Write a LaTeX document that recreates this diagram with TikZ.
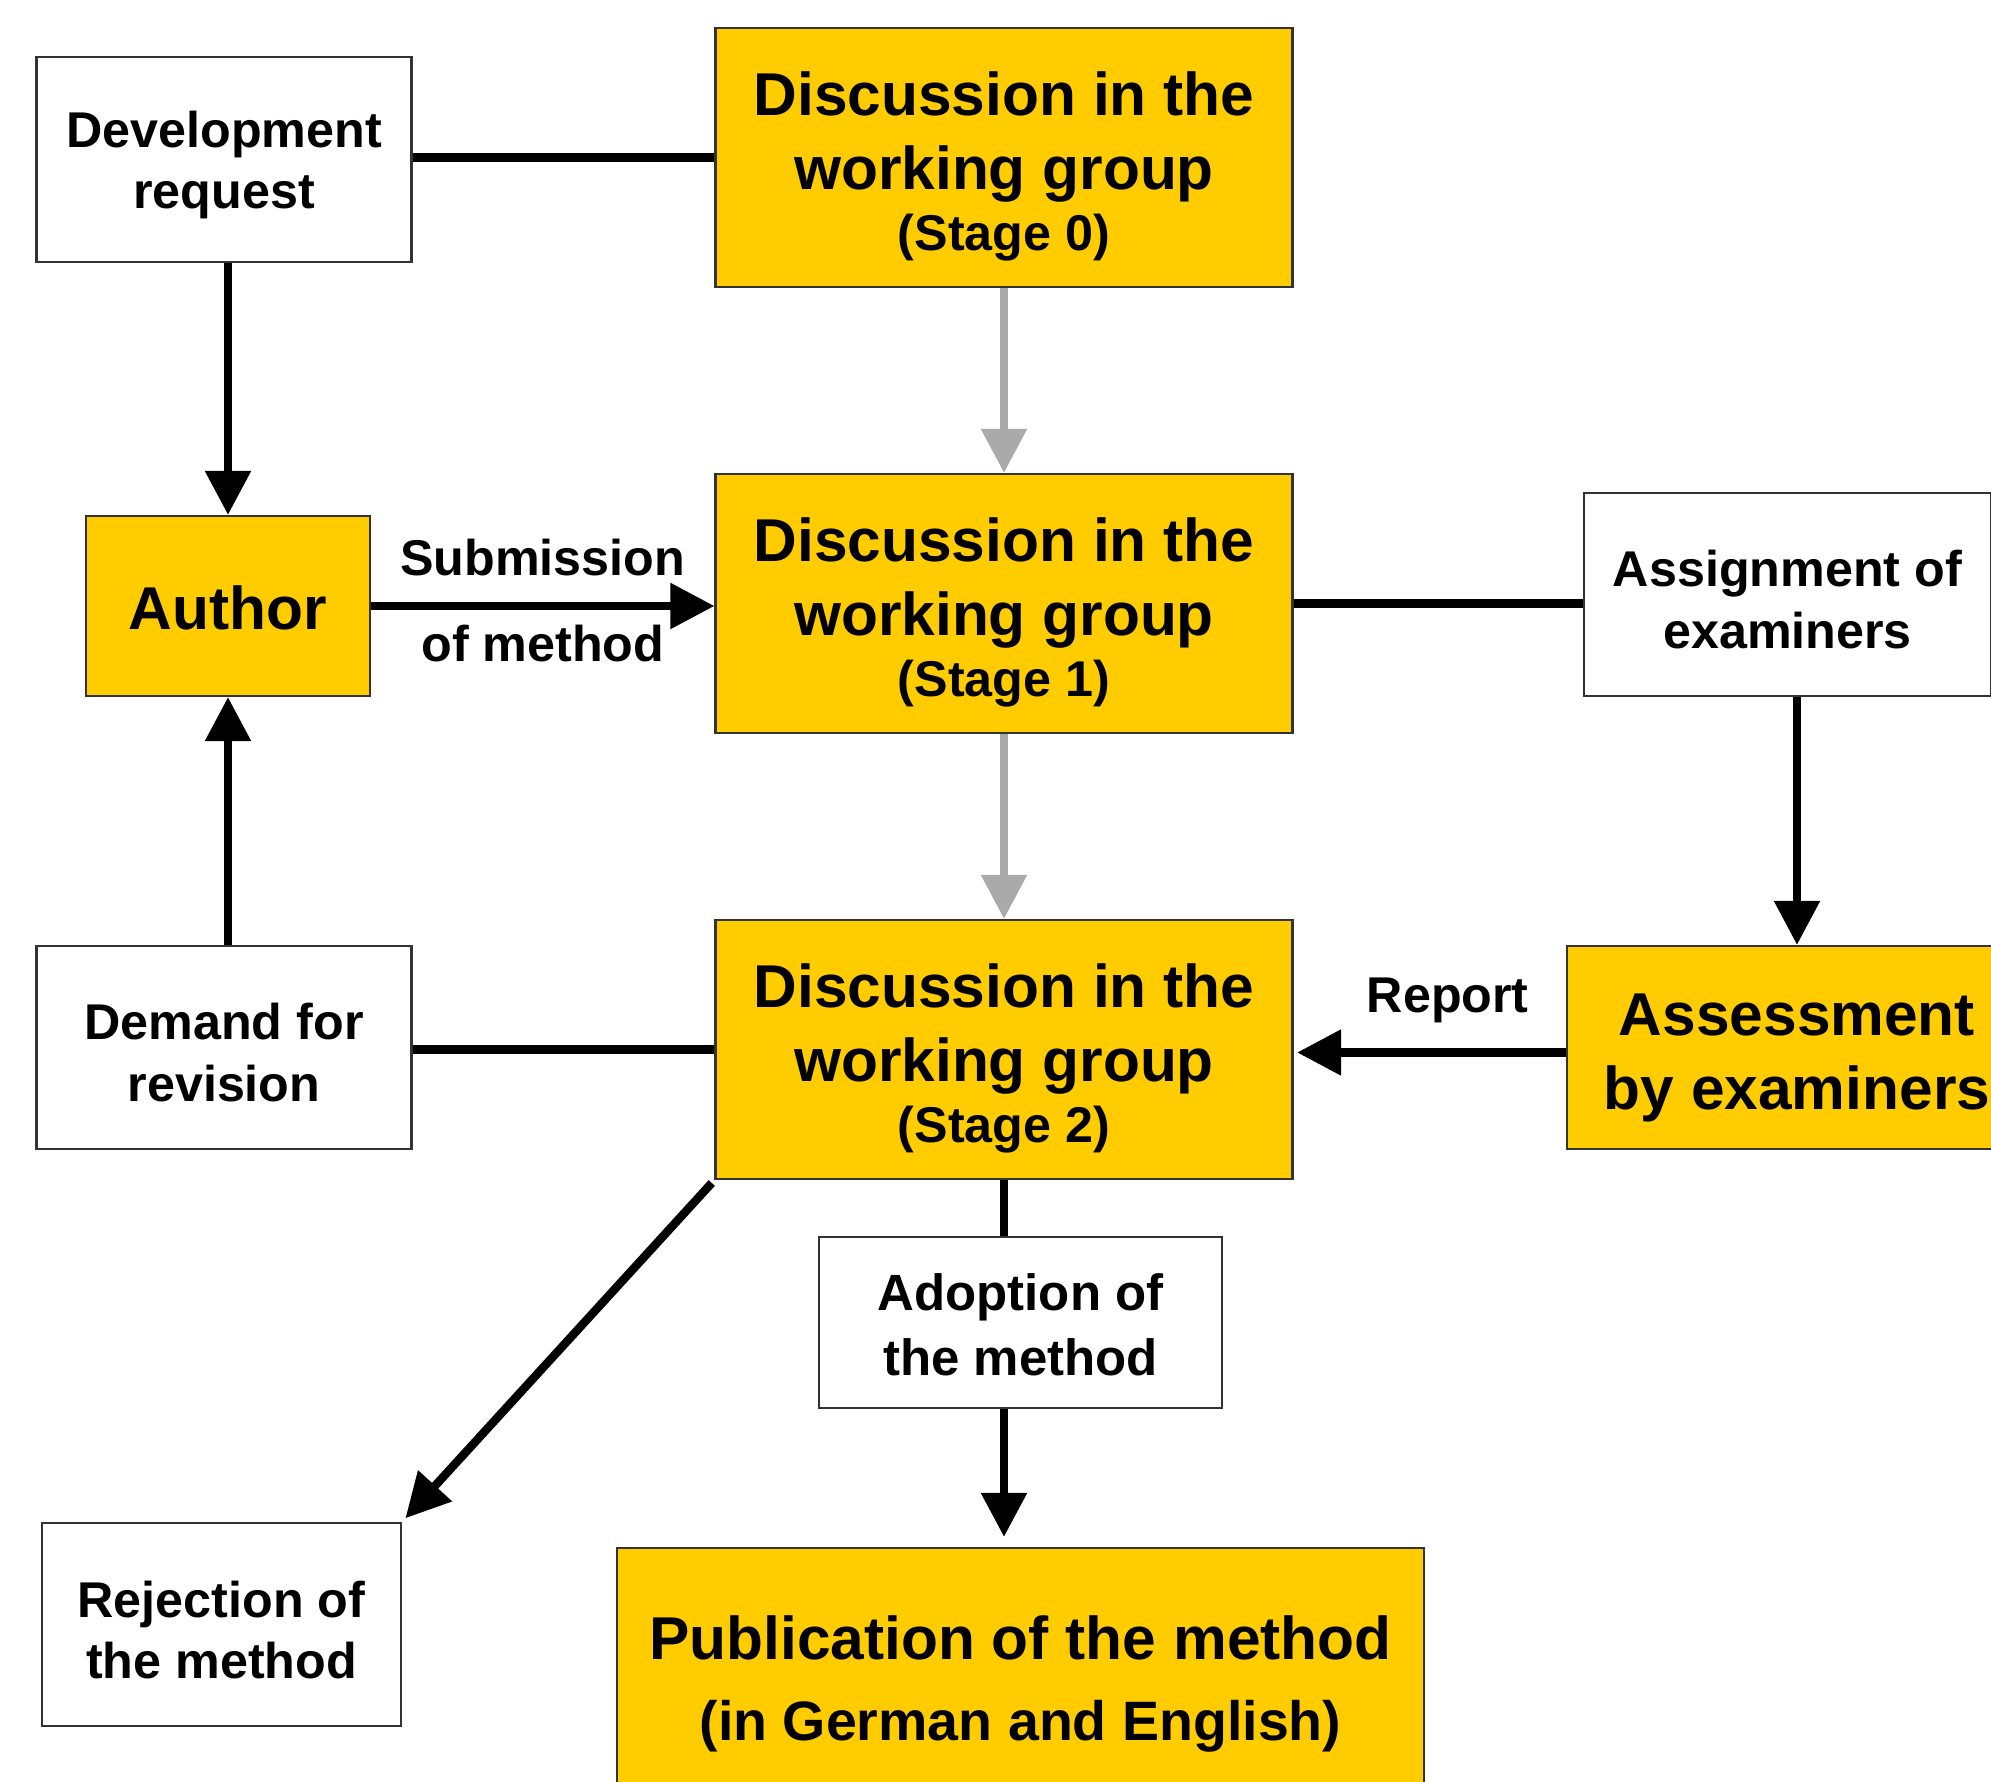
\documentclass[tikz,border=0pt]{standalone}
\usepackage{fontspec}
\setmainfont{Liberation Sans}
\usetikzlibrary{positioning,arrows.meta}
\definecolor{boxgold}{HTML}{FFCC00}
\definecolor{arrowgray}{HTML}{AAAAAA}
\newcommand{\padtop}[1]{\rule{0pt}{#1}}

\begin{document}
\begin{tikzpicture}[-{Triangle[length=0.44cm,width=0.44cm]},line width=2.4pt,node distance=4.46cm,
		yellow node/.style={rectangle,draw=black!80,line width=0.6pt,fill=boxgold,align=center,inner sep=0pt,font=\fontsize{17.2}{21}\selectfont\bfseries},
		white node/.style={rectangle,draw=black!80,line width=0.6pt,fill=white,align=center,inner sep=0pt,font=\fontsize{14.3}{17.5}\selectfont\bfseries},
		stage node/.style={yellow node,minimum width=5.77cm,minimum height=2.59cm}]
		\useasboundingbox (0,0) rectangle (19.91,-17.82);
		\clip (0,0) rectangle (19.91,-17.82);

		% working group column
		\node[stage node] (s0) at (10.04,-1.575) {\padtop{0.62cm}Discussion in the\\working group\\[-3.6pt]{\fontsize{14.3}{17}\selectfont (Stage 0)}};
		\node[stage node] (s1) [below of=s0] {\padtop{0.62cm}Discussion in the\\working group\\[-3.6pt]{\fontsize{14.3}{17}\selectfont (Stage 1)}};
		\node[stage node] (s2) [below of=s1] {\padtop{0.62cm}Discussion in the\\working group\\[-3.6pt]{\fontsize{14.3}{17}\selectfont (Stage 2)}};

		% left column
		\node[white node,minimum width=3.75cm,minimum height=2.05cm] (request) at (2.24,-1.595) {\padtop{0.47cm}Development\\request};
		\node[yellow node,minimum width=2.84cm,minimum height=1.80cm] (author) at (2.28,-6.06) {\padtop{0.48cm}Author};
		\node[white node,minimum width=3.75cm,minimum height=2.03cm] (demand) at (2.24,-10.475) {\padtop{0.47cm}Demand for\\revision};
		\node[white node,minimum width=3.59cm,minimum height=2.03cm] (reject) at (2.215,-16.245) {\padtop{0.47cm}Rejection of\\the method};

		% right column
		\node[white node,minimum width=4.07cm,minimum height=2.03cm] (assign) at (17.875,-5.945) {\padtop{0.47cm}Assignment of\\examiners};
		\node[yellow node,minimum width=4.60cm,minimum height=2.03cm] (assess) at (17.97,-10.475) {\padtop{0.62cm}Assessment\\by examiners};

		% bottom
		\node[white node,minimum width=4.03cm,minimum height=1.71cm,font=\fontsize{14.5}{18.5}\selectfont\bfseries] (adopt) at (10.205,-13.225) {\padtop{0.41cm}Adoption of\\the method};
		\node[yellow node,minimum width=8.07cm,minimum height=2.54cm] (pub) at (10.205,-16.75) {\padtop{0.62cm}Publication of the method\\[2pt]{\fontsize{15.8}{19}\selectfont (in German and English)}};

		\path[every node/.style={font=\fontsize{14.3}{17.5}\selectfont\bfseries}]
		(s0.west -| request.east) edge[-] (s0.west)
		(request.south -| author) edge (author.north)
		(author.east) edge node[above=4pt] {Submission} node[below=1pt] {of method} (author.east -| s1.west)
		(s0) edge[arrowgray] (s1)
		(s1) edge[arrowgray] (s2)
		(s1.east) edge[-] (s1.east -| assign.west)
		(assess.north |- assign.south) edge (assess.north)
		([yshift=-0.05cm]assess.west) edge[shorten >=1pt] node[above=4pt,xshift=0.18cm] {Report} ([yshift=-0.05cm]assess.west -| s2.east)
		(s2.west -| demand.east) edge[-] (s2.west)
		(demand.north -| author) edge (author.south)
		(s2.south west) edge[shorten <=0.04cm,shorten >=0.05cm] (reject.north east)
		(s2.south) edge[-] (s2.south |- adopt.north)
		(s2.south |- adopt.south) edge[shorten >=0.1cm] (s2.south |- pub.north);
\end{tikzpicture}
\end{document}
